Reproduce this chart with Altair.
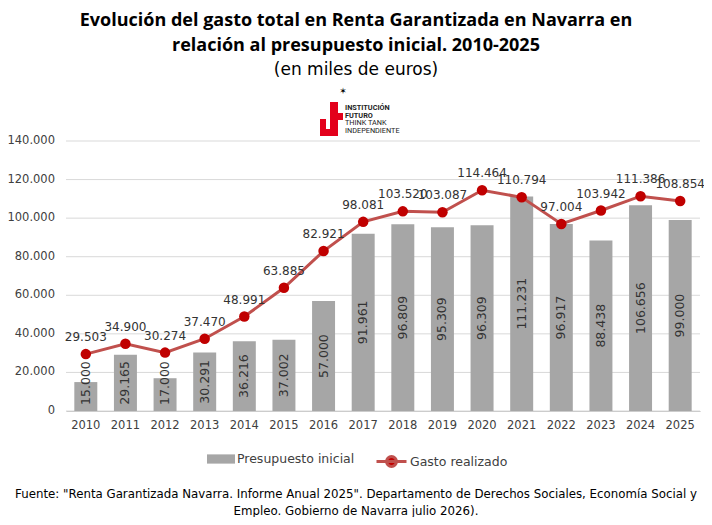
import altair as alt
import pandas as pd

years = [str(y) for y in range(2010, 2026)]
presupuesto = [15000, 29165, 17000, 30291, 36216, 37002, 57000, 91961, 96809,
               95309, 96309, 111231, 96917, 88438, 106656, 99000]
gasto = [29503, 34900, 30274, 37470, 48991, 63885, 82921, 98081, 103520,
         103087, 114464, 110794, 97004, 103942, 111386, 108854]
y_ticks = [0, 20000, 40000, 60000, 80000, 100000, 120000, 140000]

title_lines = ["Evolución del gasto total en Renta Garantizada en Navarra en",
               "relación al presupuesto inicial. 2010-2025"]
subtitle = "(en miles de euros)"
logo_lines = ["INSTITUCIÓN", "FUTURO", "THINK TANK", "INDEPENDIENTE"]
source_lines = ['Fuente: "Renta Garantizada Navarra. Informe Anual 2025". Departamento de Derechos Sociales, Economía Social y',
                'Empleo. Gobierno de Navarra julio 2026).']

df = pd.DataFrame({"year": years, "presupuesto": presupuesto, "gasto": gasto})
ticks_df = pd.DataFrame({"tick": y_ticks})

FONT = "DejaVu Sans"
W, H = 634, 270

y_scale = alt.Scale(domain=[0, 140000], nice=False)

# y gridlines and labels, placed through the y scale
grid = alt.Chart(ticks_df).mark_rule(color="#d9d9d9", strokeWidth=1).encode(
    y=alt.Y("tick:Q", scale=y_scale, axis=None),
    x=alt.value(0), x2=alt.value(W),
)
grid_labels = alt.Chart(ticks_df).transform_calculate(
    lab="replace(format(datum.tick, ','), ',', '.')"
).mark_text(align="right", baseline="middle", font=FONT, fontSize=11.5,
            color="#404040").encode(
    y=alt.Y("tick:Q", scale=y_scale, axis=None),
    x=alt.value(-11),
    text="lab:N",
)

base = alt.Chart(df)

bars = base.transform_calculate(serie="'Presupuesto inicial'").mark_bar(
).encode(
    x=alt.X("year:N", title=None,
            scale=alt.Scale(paddingInner=0.42, paddingOuter=0.21)),
    y=alt.Y("presupuesto:Q", scale=y_scale, axis=None),
    color=alt.Color("serie:N", scale=alt.Scale(domain=["Presupuesto inicial"], range=["#a6a6a6"]),
                    legend=alt.Legend(orient="none", legendX=141, legendY=304, title=None,
                                      symbolType="M-1,-0.33H1V0.33H-1Z", symbolSize=784,
                                      symbolStrokeWidth=0, labelFont=FONT, labelFontSize=12.5,
                                      labelColor="#404040", labelOffset=2)),
)

bar_labels = base.transform_calculate(
    ly="max(datum.presupuesto / 2, 14500)",
    lab="replace(format(datum.presupuesto, ','), ',', '.')",
).mark_text(angle=270, align="center", baseline="middle", font=FONT, fontSize=12.5,
            color="#333333").encode(
    x="year:N",
    y=alt.Y("ly:Q", scale=y_scale, axis=None),
    text="lab:N",
)

line = base.transform_calculate(serie2="'Gasto realizado'").mark_line(strokeWidth=3).encode(
    x="year:N",
    y=alt.Y("gasto:Q", scale=y_scale, axis=None),
    stroke=alt.Stroke("serie2:N", scale=alt.Scale(domain=["Gasto realizado"], range=["#c0504d"]),
                      legend=alt.Legend(orient="none", legendX=309, legendY=304, title=None,
                                        symbolType="M-1,0L1,0M0.33,0A0.33,0.33,0,1,1,-0.33,0A0.33,0.33,0,1,1,0.33,0Z",
                                        symbolSize=900, symbolStrokeWidth=3,
                                        symbolFillColor="#c00000",
                                        labelFont=FONT, labelFontSize=12.5,
                                        labelColor="#404040", labelOffset=2)),
)

points = base.mark_circle(size=110, color="#c00000", opacity=1).encode(
    x="year:N",
    y=alt.Y("gasto:Q", scale=y_scale, axis=None),
)

point_labels = base.transform_calculate(
    lab="replace(format(datum.gasto, ','), ',', '.')"
).mark_text(dy=-17, align="center", baseline="middle", font=FONT, fontSize=12,
            color="#333333").encode(
    x="year:N",
    y=alt.Y("gasto:Q", scale=y_scale, axis=None),
    text="lab:N",
)


def txt(s, x, y, **kw):
    return alt.Chart(pd.DataFrame({"t": [s]})).mark_text(**kw).encode(
        text="t:N", x=alt.value(x), y=alt.value(y))


def box(x1, x2, y1, y2):
    return alt.Chart(pd.DataFrame({"t": [0]})).mark_rect(color="#e3001b").encode(
        x=alt.value(x1), x2=alt.value(x2), y=alt.value(y1), y2=alt.value(y2))


decor = [
    txt(title_lines[0], 290, -120, font="Open Sans", fontSize=18, fontWeight="bold",
        color="#000000", align="center", baseline="middle"),
    txt(title_lines[1], 290, -95, font="Open Sans", fontSize=18, fontWeight="bold",
        color="#000000", align="center", baseline="middle"),
    txt(subtitle, 290, -71, font=FONT, fontSize=17, color="#000000",
        align="center", baseline="middle"),
    txt("✶", 277, -50, font=FONT, fontSize=9, color="#000000",
        align="center", baseline="middle"),
    box(264, 272, -39, -5), box(264, 277, -28, -21),
    box(254, 272, -12, -5), box(254, 260, -22, -5),
    txt(logo_lines[0], 279, -33, font="Roboto", fontSize=7.3, fontWeight="bold",
        color="#222222", align="left", baseline="middle"),
    txt(logo_lines[1], 279, -25.5, font="Roboto", fontSize=7.3, fontWeight="bold",
        color="#222222", align="left", baseline="middle"),
    txt(logo_lines[2], 279, -18, font="Roboto", fontSize=7.3, color="#222222",
        align="left", baseline="middle"),
    txt(logo_lines[3], 279, -10.5, font="Roboto", fontSize=7.3, color="#222222",
        align="left", baseline="middle"),
    txt(source_lines[0], 290, 353, font=FONT, fontSize=11.8, color="#000000",
        align="center", baseline="middle"),
    txt(source_lines[1], 290, 370, font=FONT, fontSize=11.8, color="#000000",
        align="center", baseline="middle"),
]

chart = alt.layer(grid, grid_labels, bars, bar_labels, line, points, point_labels,
                  *decor).resolve_scale(
    color="independent", stroke="independent"
).properties(
    width=W, height=H,
    background="#ffffff",
    autosize=alt.AutoSizeParams(type="none"),
    padding={"left": 58, "top": 133, "right": 4, "bottom": 106},
).configure_view(strokeWidth=0, stroke="transparent").configure_axisX(
    labelAngle=0, ticks=False, domainColor="#bfbfbf", labelPadding=8,
    labelFont=FONT, labelFontSize=11.5, labelColor="#404040", grid=False
)

chart.save("out.html", embed_options={"renderer": "svg", "actions": False})
